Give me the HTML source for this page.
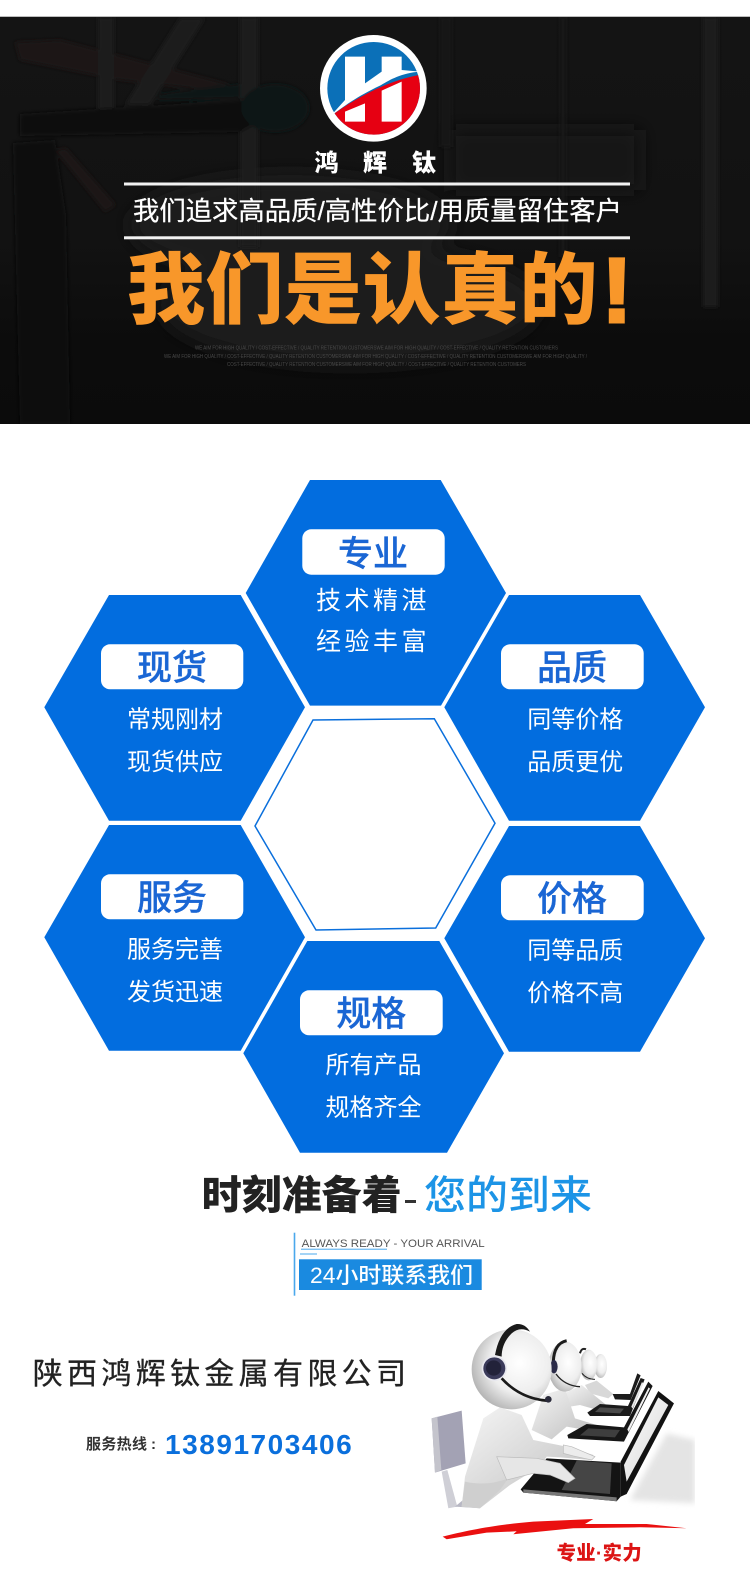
<!DOCTYPE html>
<html lang="zh"><head><meta charset="utf-8"><title>鸿辉钛</title>
<style>
html,body{margin:0;padding:0;background:#fff}
svg{display:block}
text{font-family:"Liberation Sans","Noto Sans CJK SC",sans-serif}
.t{font-size:35px;font-weight:500;fill:#1a66d4;stroke:#1a66d4;stroke-width:.3;text-anchor:middle}
.s{font-size:24px;fill:#fff;text-anchor:middle}
</style></head><body>
<svg xmlns="http://www.w3.org/2000/svg" width="750" height="1590" viewBox="0 0 750 1590">
<defs>
<filter id="b2" x="-10%" y="-10%" width="120%" height="120%"><feGaussianBlur stdDeviation="2"/></filter>
<filter id="b3" x="-20%" y="-20%" width="140%" height="140%"><feGaussianBlur stdDeviation="9"/></filter>
<clipPath id="band"><rect x="0" y="17" width="750" height="407"/></clipPath>
<clipPath id="ill"><rect x="70" y="80" width="815" height="578"/></clipPath>
<linearGradient id="dark" x1="0" y1="0" x2="0" y2="1"><stop offset="0" stop-color="#141414"/><stop offset=".55" stop-color="#121212"/><stop offset=".8" stop-color="#0c0c0c"/><stop offset="1" stop-color="#0b0b0b"/></linearGradient>
<radialGradient id="head" cx=".6" cy=".42" r=".68"><stop offset="0" stop-color="#fff"/><stop offset=".55" stop-color="#eeeeee"/><stop offset="1" stop-color="#a8a8a8"/></radialGradient>
<linearGradient id="body" x1="0" y1="0" x2="1" y2="1"><stop offset="0" stop-color="#f6f6f6"/><stop offset="1" stop-color="#bcbcbc"/></linearGradient>
<linearGradient id="scr" x1="0" y1="0" x2="1" y2="1"><stop offset="0" stop-color="#fff"/><stop offset="1" stop-color="#d4d4d4"/></linearGradient>
</defs>
<rect width="750" height="1590" fill="#fff"/>

<!-- header band -->
<rect x="0" y="16" width="750" height="408" fill="url(#dark)"/>
<g clip-path="url(#band)">
<g filter="url(#b3)">
<ellipse cx="290" cy="225" rx="160" ry="50" fill="#1c1c1c"/>
<ellipse cx="350" cy="305" rx="190" ry="60" fill="#1b1b1b"/>
<rect x="450" y="130" width="190" height="60" fill="#171717"/>
</g>
<g filter="url(#b2)">
<polygon points="15,42 60,40 228,84 225,92 120,80 20,60" fill="#1e1614"/>
<rect x="98" y="17" width="16" height="110" fill="#1a1a1a"/>
<rect x="240" y="17" width="18" height="230" fill="#1b1b1b"/>
<rect x="440" y="17" width="12" height="130" fill="#181818"/>
<rect x="703" y="17" width="15" height="290" fill="#1a1a1a"/>
<rect x="560" y="17" width="6" height="240" fill="#171717"/>
<polygon points="180,18 205,18 150,105 125,105" fill="#1c1c1c"/>
<polygon points="20,114 240,100 262,120 240,132 20,136" fill="#0f0f0f"/>
<ellipse cx="275" cy="108" rx="34" ry="24" fill="#101312"/>
<polygon points="158,94 240,84 240,98 158,100" fill="#111413"/>
<polygon points="13,143 55,140 66,215 70,424 20,424" fill="#0e1110"/>
<polygon points="55,150 66,148 116,205 105,212" fill="#1b1513"/>
</g>
</g>
<rect x="0" y="16" width="750" height="1" fill="#bdbdbd"/>

<!-- logo -->
<g transform="translate(300 20) scale(.33333)">
<circle cx="220" cy="205" r="160" fill="#fff"/>
<clipPath id="lc"><circle cx="221" cy="205" r="139"/></clipPath>
<g clip-path="url(#lc)">
<rect x="60" y="50" width="320" height="320" fill="#0b70b8"/>
<path d="M90 290 C170 230 270 180 358 165 L400 165 L400 400 L50 400 Z" fill="#e60012"/>
</g>
<path d="M135 110 H195 V190 L245 155 V110 H305 V150 L360 155 C300 160 270 180 240 197 C170 230 130 260 90 290 L135 240 Z" fill="#fff"/>
<polygon points="245,212 305,185 305,305 245,305" fill="#fff"/>
<polygon points="135,275 195,250 195,305 135,305" fill="#fff"/>
</g>
<text x="326.5" y="171" font-size="24" font-weight="900" fill="#fff" text-anchor="middle">鸿</text>
<text x="375" y="171" font-size="24" font-weight="900" fill="#fff" text-anchor="middle">辉</text>
<text x="424" y="171" font-size="24" font-weight="900" fill="#fff" text-anchor="middle">钛</text>

<rect x="124" y="182.5" width="506" height="3" fill="#f2f2f2"/>
<rect x="124" y="236.3" width="506" height="3" fill="#f2f2f2"/>
<text x="133" y="220" font-size="26" fill="#fff" stroke="#fff" stroke-width=".25" textLength="489" lengthAdjust="spacingAndGlyphs">我们追求高品质/高性价比/用质量留住客户</text>
<g font-size="78" font-weight="900" fill="#f8972a" text-anchor="middle">
<text x="166" y="317">我</text><text x="244.5" y="317">们</text><text x="323" y="317">是</text><text x="401.5" y="317">认</text><text x="480" y="317">真</text><text x="558.5" y="317">的</text>
</g>
<text x="617" y="322" font-size="92" font-weight="700" fill="#f8972a" stroke="#f8972a" stroke-width="3" text-anchor="middle">!</text>
<g font-size="5" fill="#4a4a4a">
<text x="195" y="349.5" textLength="363" lengthAdjust="spacingAndGlyphs">WE AIM FOR HIGH QUALITY / COST-EFFECTIVE / QUALITY RETENTION CUSTOMERSWE AIM FOR HIGH QUALITY / COST-EFFECTIVE / QUALITY RETENTION CUSTOMERS</text>
<text x="164" y="358" textLength="423" lengthAdjust="spacingAndGlyphs">WE AIM FOR HIGH QUALITY / COST-EFFECTIVE / QUALITY RETENTION CUSTOMERSWE AIM FOR HIGH QUALITY / COST-EFFECTIVE / QUALITY RETENTION CUSTOMERSWE AIM FOR HIGH QUALITY /</text>
<text x="227" y="366" textLength="299" lengthAdjust="spacingAndGlyphs">COST-EFFECTIVE / QUALITY RETENTION CUSTOMERSWE AIM FOR HIGH QUALITY / COST-EFFECTIVE / QUALITY RETENTION CUSTOMERS</text>
</g>

<!-- hexagons -->
<g fill="#026ddf">
<polygon points="245.7,593 310,480 440.7,480 506,593 441,705.6 310,705.6"/>
<polygon points="44.3,707.3 109,595 240.7,595 305,707.3 240.7,820.7 109,820.7"/>
<polygon points="444.3,707.3 509,595 640,595 705,707.3 640,820.7 509,820.7"/>
<polygon points="44.3,937.3 109,825 240.7,825 305,937.3 240.7,1050.7 109,1050.7"/>
<polygon points="444.3,938.3 509,826 640,826 705,938.3 640,1051.7 509,1051.7"/>
<polygon points="243.3,1053.3 307.3,941 439.3,941 504,1053.3 447,1152.7 300,1152.7"/>
</g>
<polygon points="255,826 313,720 434.3,718.7 495,823.3 435.7,928 316,930" fill="#fff" stroke="#0a6fdc" stroke-width="1.5"/>

<g fill="#fff">
<rect x="302.3" y="529.3" width="142.4" height="45.4" rx="9"/>
<rect x="101" y="644.3" width="142.3" height="45" rx="9"/>
<rect x="501" y="644.3" width="142.7" height="45" rx="9"/>
<rect x="101" y="874.3" width="142.3" height="45" rx="9"/>
<rect x="501" y="875.3" width="142.7" height="45" rx="9"/>
<rect x="300" y="990.3" width="142.7" height="45" rx="9"/>
</g>
<text class="t" x="373" y="566">专业</text>
<text class="t" x="172" y="680">现货</text>
<text class="t" x="572" y="680">品质</text>
<text class="t" x="172" y="910">服务</text>
<text class="t" x="572" y="911">价格</text>
<text class="t" x="371.3" y="1026">规格</text>

<text class="s" x="373" y="609" letter-spacing="3.5" style="font-size:25px">技术精湛</text>
<text class="s" x="373" y="650" letter-spacing="3.5" style="font-size:25px">经验丰富</text>
<text class="s" x="175" y="727.5">常规刚材</text>
<text class="s" x="175" y="770">现货供应</text>
<text class="s" x="575.3" y="727.5">同等价格</text>
<text class="s" x="575.3" y="770">品质更优</text>
<text class="s" x="175" y="957.5">服务完善</text>
<text class="s" x="175" y="1000">发货迅速</text>
<text class="s" x="575.3" y="958.5">同等品质</text>
<text class="s" x="575.3" y="1001">价格不高</text>
<text class="s" x="373.5" y="1073">所有产品</text>
<text class="s" x="373.5" y="1115.5">规格齐全</text>

<!-- ready -->
<text x="201.7" y="1209" font-size="40" font-weight="900" fill="#222" textLength="200" lengthAdjust="spacingAndGlyphs">时刻准备着</text>
<rect x="405" y="1200" width="11" height="3" fill="#333"/>
<text x="424" y="1209" font-size="40" font-weight="500" fill="#1c94e6" textLength="168" lengthAdjust="spacingAndGlyphs">您的到来</text>
<rect x="293.7" y="1232.7" width="1.6" height="63" fill="#4aa8ec"/>
<text x="301.7" y="1247" font-size="11" fill="#555" textLength="183" lengthAdjust="spacingAndGlyphs">ALWAYS READY - YOUR ARRIVAL</text>
<rect x="301" y="1248.7" width="86" height="1" fill="#4aa8ec"/>
<rect x="300" y="1253.5" width="17" height="1" fill="#4aa8ec"/>
<rect x="299" y="1259.3" width="182.7" height="30.7" fill="#1a8ae0"/>
<text x="310" y="1283" font-size="22" font-weight="500" fill="#fff" textLength="163" lengthAdjust="spacingAndGlyphs">24小时联系我们</text>

<text x="32.7" y="1384" font-size="30" fill="#222" stroke="#222" stroke-width=".3" textLength="373.3" lengthAdjust="spacing">陕西鸿辉钛金属有限公司</text>
<text x="86" y="1449" font-size="15" font-weight="700" fill="#333" textLength="61" lengthAdjust="spacing">服务热线</text>
<text x="151" y="1449" font-size="15" font-weight="700" fill="#333">:</text>
<text x="165" y="1454" font-size="28" font-weight="700" fill="#0a6fdc" textLength="186.7" lengthAdjust="spacing" style="font-family:'Liberation Sans',sans-serif">13891703406</text>

<!-- operators -->
<g transform="translate(400 1290) scale(.3333)">
<g clip-path="url(#ill)">
<g filter="url(#b3)"><polygon points="690,630 885,640 885,450 800,430" fill="#e4e4e4"/></g>

<!-- person 4 -->
<path d="M555 285 L590 272 L640 312 L625 325 L570 310 Z" fill="#d8d8d8"/>
<ellipse cx="602" cy="228" rx="19" ry="36" fill="url(#head)"/>
<polygon points="638,312 690,312 712,250 722,256 692,330 645,328" fill="#1c1c1c"/>
<!-- person 3 -->
<path d="M490 312 L545 285 L625 350 L610 365 L540 345 L510 350 Z" fill="url(#body)"/>
<ellipse cx="566" cy="225" rx="26" ry="46" fill="url(#head)"/>
<path d="M540 190 Q545 172 558 178" stroke="#222" stroke-width="6" fill="none"/>
<path d="M546 250 Q560 268 585 268" stroke="#222" stroke-width="3" fill="none"/>
<polygon points="562,368 600,342 684,348 722,264 734,268 690,378 570,378" fill="#1a1a1a"/>
<polygon points="694,350 726,276 730,280 698,356" fill="#e8e8e8"/>
<polygon points="600,352 672,356 660,370 585,366" fill="#4a4a4a"/>
<!-- person 2 -->
<path d="M395 420 L430 315 L495 295 L525 385 L590 405 L585 425 L500 410 L455 448 Z" fill="url(#body)"/>
<ellipse cx="495" cy="230" rx="50" ry="75" fill="url(#head)"/>
<path d="M460 215 Q462 160 500 152" stroke="#1c1c1c" stroke-width="9" fill="none"/>
<ellipse cx="462" cy="230" rx="11" ry="20" fill="#2a2a48"/>
<path d="M468 252 Q495 288 540 290" stroke="#222" stroke-width="4" fill="none"/>
<polygon points="502,435 560,402 672,412 745,275 758,288 672,455 505,445" fill="#161616"/>
<polygon points="682,418 746,292 750,296 686,426" fill="#f0f0f0"/>
<polygon points="565,415 660,420 645,442 540,436" fill="#3e3e3e"/>

<!-- chair -->
<polygon points="95,385 185,362 197,520 105,548" fill="#a3a2b4"/>
<polygon points="95,385 112,380 124,540 105,548" fill="#c4c4cc"/>
<polygon points="125,545 142,540 172,650 145,655" fill="#cfcfd6"/>
<polygon points="165,650 195,625 240,655" fill="#b8b8c4"/>

<!-- front laptop screen -->
<polygon points="662,515 775,303 822,340 680,612 662,620" fill="#121212"/>
<polygon points="672,525 775,322 805,345 680,575" fill="url(#scr)"/>

<!-- front body -->
<path d="M185 650 L195 560 L250 385 L300 352 L365 375 L400 450 L490 468 L580 495 L575 510 L480 502 L440 500 L420 530 L330 585 L240 655 Z" fill="url(#body)"/>
<path d="M195 575 Q260 590 325 565 L300 600 L240 655 L185 650 Z" fill="#cfcfcf"/>

<!-- front laptop base -->
<polygon points="362,598 440,505 662,518 662,620 650,634 370,608" fill="#141414"/>
<polygon points="485,600 530,512 635,520 630,612" fill="#454545"/>
<polygon points="370,598 650,622 650,634 370,608" fill="#777"/>

<!-- arms -->
<path d="M290 500 L410 505 L480 520 L525 565 L505 578 L450 555 L400 550 L320 570 Z" fill="#e6e6e6" stroke="#bbb" stroke-width="2"/>
<path d="M490 465 L515 470 L585 500 L575 510 L520 498 L490 490 Z" fill="#ececec" stroke="#bbb" stroke-width="2"/>

<!-- front head -->
<ellipse cx="335" cy="238" rx="120" ry="120" fill="url(#head)"/>
<path d="M285 195 Q300 115 350 102 Q375 100 390 125 Q360 108 335 130 Q305 160 305 200 Z" fill="#1a1a1a"/>
<circle cx="283" cy="235" r="38" fill="#e8e8ef"/>
<circle cx="283" cy="235" r="33" fill="#3a3a5a"/>
<circle cx="281" cy="234" r="23" fill="#22223a"/>
<path d="M305 265 Q360 325 440 332" stroke="#1a1a1a" stroke-width="8" fill="none"/>
<circle cx="445" cy="328" r="10" fill="#2a2a3a"/>
</g>
<!-- brush -->
<path d="M128 740 C200 722 280 705 400 695 L580 687 L555 702 L740 702 L860 715 L720 712 L520 715 L340 733 L350 724 L260 728 L140 748 Z" fill="#ea1010"/>
<text x="470" y="808" font-size="58" font-weight="900" fill="#dc1414" textLength="255" lengthAdjust="spacing">专业·实力</text>
</g>
</svg>
</body></html>
